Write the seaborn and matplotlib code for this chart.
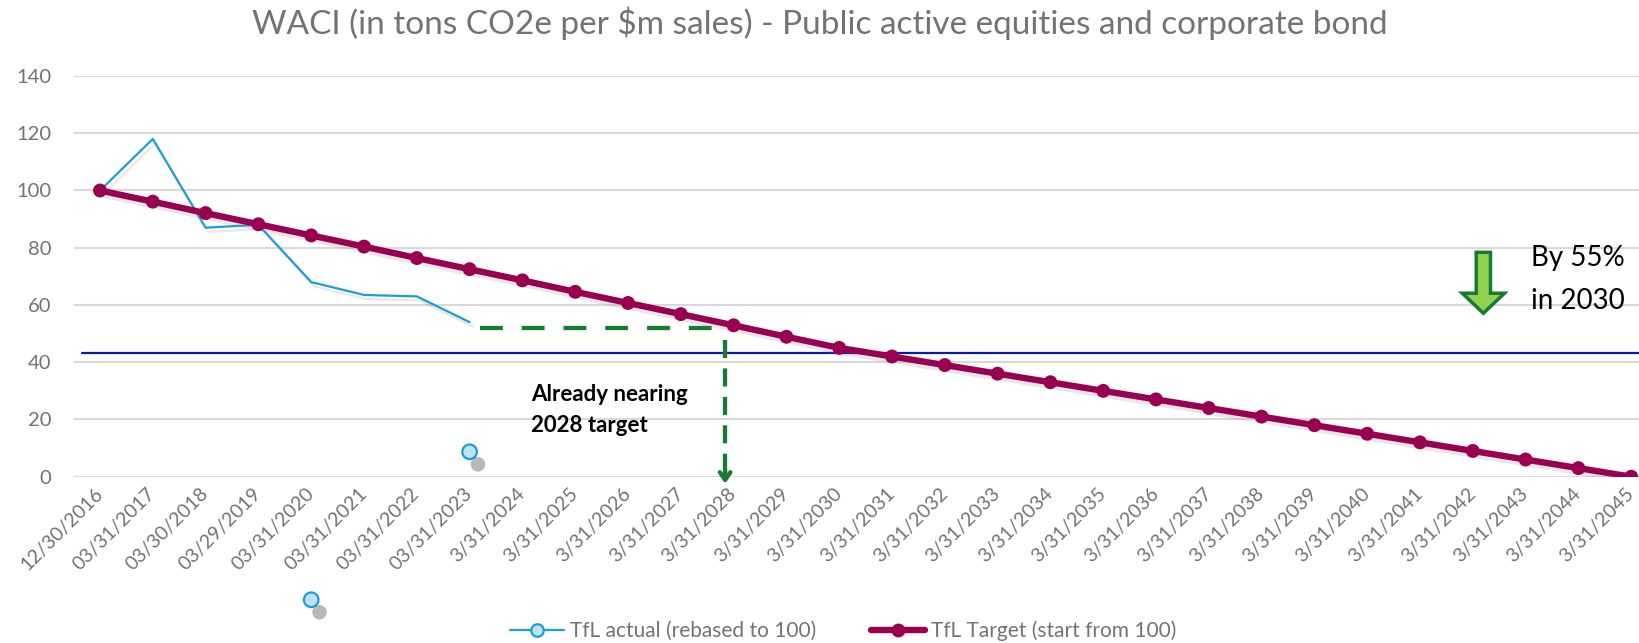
import numpy as np
import pandas as pd
import matplotlib
matplotlib.use("Agg")
import matplotlib.pyplot as plt
import matplotlib.patches as mpatches
import matplotlib.patheffects as pe
from matplotlib.lines import Line2D
import seaborn as sns

# ---- data ----
dates = [
    "12/30/2016", "03/31/2017", "03/30/2018", "03/29/2019", "03/31/2020",
    "03/31/2021", "03/31/2022", "03/31/2023", "3/31/2024", "3/31/2025",
    "3/31/2026", "3/31/2027", "3/31/2028", "3/31/2029", "3/31/2030",
    "3/31/2031", "3/31/2032", "3/31/2033", "3/31/2034", "3/31/2035",
    "3/31/2036", "3/31/2037", "3/31/2038", "3/31/2039", "3/31/2040",
    "3/31/2041", "3/31/2042", "3/31/2043", "3/31/2044", "3/31/2045",
]
target = [
    100.0, 96.1, 92.1, 88.2, 84.3, 80.4, 76.4, 72.5, 68.6, 64.6,
    60.7, 56.8, 52.9, 48.9, 45.0, 42.0, 39.0, 36.0, 33.0, 30.0,
    27.0, 24.0, 21.0, 18.0, 15.0, 12.0, 9.0, 6.0, 3.0, 0.0,
]
actual_dates = dates[:8]
actual = [100.0, 118.0, 87.0, 88.0, 68.0, 63.5, 63.0, 54.0]

# stray data-label markers that float in the original picture
stray_dates = ["03/31/2023", "03/31/2020"]
stray_values = [8.7, -43.0]

level_2030 = 43.3        # dark blue reference line
nearing_level = 52.0     # green dashed guide

title = "WACI (in tons CO2e per $m sales) - Public active equities and corporate bond"
y_ticks = [0, 20, 40, 60, 80, 100, 120, 140]

# ---- colours ----
c_actual = "#1B9DD9"
c_actual_fill = "#BFE2F7"
c_target = "#990052"
c_navy = "#0F1A9E"
c_green = "#187A33"
c_light_green = "#92D050"
c_grid = "#D9D9D9"
c_text = "#737373"

sns.set_style("white")
plt.rcParams["font.family"] = ["Lato", "DejaVu Sans"]

cat = pd.CategoricalDtype(dates, ordered=True)
df_target = pd.DataFrame({"date": pd.Series(dates, dtype=cat), "value": target})
df_actual = pd.DataFrame({"date": pd.Series(actual_dates, dtype=cat), "value": actual})
df_stray = pd.DataFrame({"date": pd.Series(stray_dates, dtype=cat), "value": stray_values})

fig = plt.figure(figsize=(16.4, 6.43), dpi=100)
W, H = 1640, 643
ax = fig.add_axes([73.6 / W, (H - 476.7) / H, (1657.6 - 73.6) / W, (476.7 - 76) / H])

shadow = [pe.SimpleLineShadow(offset=(2, -3), shadow_color="gray", alpha=0.18), pe.Normal()]

sns.lineplot(
    data=df_actual, x="date", y="value", sort=False, ax=ax,
    color=c_actual, lw=1.6, path_effects=shadow, zorder=3,
)
sns.lineplot(
    data=df_target, x="date", y="value", sort=False, ax=ax,
    color=c_target, lw=4.6, marker="o", markersize=10, markeredgewidth=0,
    path_effects=shadow, zorder=4,
)
sns.scatterplot(
    data=df_stray, x="date", y="value", ax=ax, s=110,
    color=c_actual_fill, edgecolor=c_actual, linewidth=1.6, zorder=5,
)
stray = ax.collections[-1]
stray.set_clip_on(False)
stray.set_path_effects([
    pe.SimplePatchShadow(offset=(6, -9), shadow_rgbFace="#808080", alpha=0.55),
    pe.Normal(),
])

ax.axhline(level_2030, xmin=0.15 / 30, color=c_navy, lw=1.6, zorder=2)

# green dashed guide from actual to 2028 target
ax.plot([7.2, 11.6], [nearing_level, nearing_level], color=c_green, lw=3.1,
        dashes=(5.3, 4.4), zorder=2)
ax.plot([11.84, 11.84], [47.8, 0.5], color=c_green, lw=3.1,
        dashes=(4.2, 2.4), zorder=2, clip_on=False)
ax.annotate(
    "", xy=(11.84, -3.4), xytext=(11.84, 3.0),
    arrowprops=dict(arrowstyle="->,head_length=0.55,head_width=0.38",
                    color=c_green, lw=3.1),
    annotation_clip=False,
)
ax.text(8.16, 32.3, "Already nearing\n2028 target", fontsize=16,
        fontweight="bold", color="black", ha="left", va="top", linespacing=1.55)

# block arrow + label on the right
ax.add_patch(mpatches.FancyArrow(
    26.2, 78.4, 0, -21.3, width=0.27, head_width=0.8, head_length=7.0,
    length_includes_head=True, fc=c_light_green, ec=c_green, lw=2.5, zorder=5,
))
ax.text(27.1, 80.8, "By 55%\nin 2030", fontsize=20, color="black",
        ha="left", va="top", linespacing=1.8)

# axes styling
ax.set_xlim(-0.5, 29.5)
ax.set_ylim(0, 140)
ax.set_yticks(y_ticks)
ax.set_yticklabels([str(v) for v in y_ticks])
ax.grid(axis="y", color=c_grid, lw=1.5)
ax.grid(axis="x", visible=False)
for s in ax.spines.values():
    s.set_visible(False)
ax.tick_params(axis="y", length=0, pad=16, labelsize=14.5, labelcolor=c_text)
ax.tick_params(axis="x", length=0, pad=10, labelsize=14, labelcolor=c_text)
ax.set_xticks(range(len(dates)))
ax.set_xticklabels(dates, rotation=45, ha="right", va="center",
                   rotation_mode="anchor")
ax.set_xlabel("")
ax.set_ylabel("")
if ax.get_legend() is not None:
    ax.get_legend().remove()

fig.text(0.5, 1 - 23 / H, title, ha="center", va="center",
         fontsize=24, color=c_text)

handles = [
    Line2D([], [], color=c_actual, lw=1.6, marker="o", markersize=9,
           markerfacecolor=c_actual_fill, markeredgecolor=c_actual, markeredgewidth=1.6),
    Line2D([], [], color=c_target, lw=4.6, marker="o", markersize=10,
           markeredgewidth=0),
]
fig.legend(handles, ["TfL actual (rebased to 100)", "TfL Target (start from 100)"],
           loc="center", bbox_to_anchor=(843 / W, 1 - 631 / H), ncol=2,
           frameon=False, fontsize=15, labelcolor=c_text, handlelength=2.6,
           handletextpad=0.3, columnspacing=2.6)

fig.savefig("out.png", dpi=100)
